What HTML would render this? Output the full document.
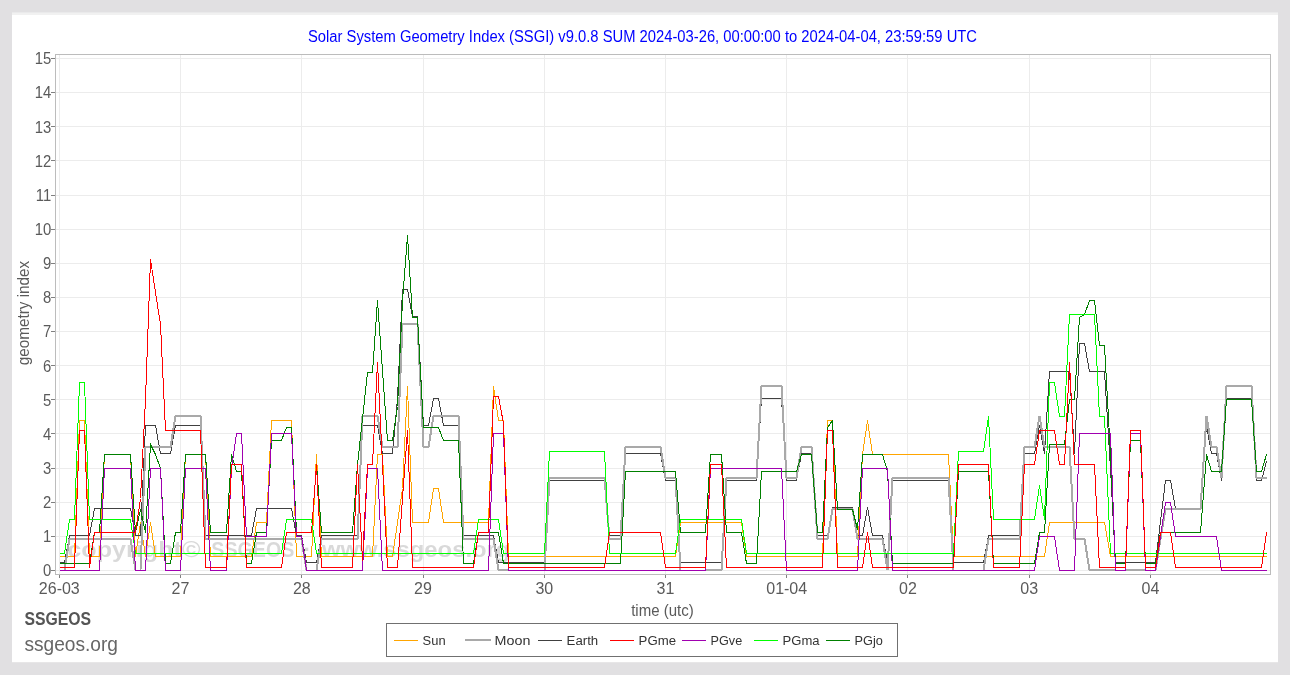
<!DOCTYPE html>
<html lang="en">
<head>
<meta charset="utf-8">
<title>Solar System Geometry Index (SSGI)</title>
<style>
html,body{margin:0;padding:0;background:#e1e0e2;}
body{width:1290px;height:675px;overflow:hidden;font-family:"Liberation Sans",sans-serif;}
svg{display:block;}
text{font-family:"Liberation Sans",sans-serif;}
.tick{font-size:16px;fill:#5a5a5a;}
.grid{stroke:#ececec;stroke-width:1;shape-rendering:crispEdges;}
.tk{stroke:#808080;stroke-width:1;shape-rendering:crispEdges;}
.ln{fill:none;stroke-linejoin:miter;stroke-linecap:butt;shape-rendering:crispEdges;}
</style>
</head>
<body>
<svg width="1290" height="675" viewBox="0 0 1290 675">
<rect x="0" y="0" width="1290" height="675" fill="#e1e0e2"/>
<rect x="12" y="12.4" width="1266" height="3" fill="#f1f1f1"/>
<rect x="12" y="15" width="1266" height="647.2" fill="#ffffff"/>
<text x="308" y="42" font-size="16" fill="#0000ff" textLength="669" lengthAdjust="spacingAndGlyphs">Solar System Geometry Index (SSGI) v9.0.8 SUM 2024-03-26, 00:00:00 to 2024-04-04, 23:59:59 UTC</text>
<g class="grid">
<line x1="56" x2="1270" y1="570.5" y2="570.5"/><line x1="56" x2="1270" y1="536.5" y2="536.5"/><line x1="56" x2="1270" y1="502.5" y2="502.5"/><line x1="56" x2="1270" y1="468.5" y2="468.5"/><line x1="56" x2="1270" y1="433.5" y2="433.5"/><line x1="56" x2="1270" y1="399.5" y2="399.5"/><line x1="56" x2="1270" y1="365.5" y2="365.5"/><line x1="56" x2="1270" y1="331.5" y2="331.5"/><line x1="56" x2="1270" y1="297.5" y2="297.5"/><line x1="56" x2="1270" y1="263.5" y2="263.5"/><line x1="56" x2="1270" y1="229.5" y2="229.5"/><line x1="56" x2="1270" y1="195.5" y2="195.5"/><line x1="56" x2="1270" y1="160.5" y2="160.5"/><line x1="56" x2="1270" y1="126.5" y2="126.5"/><line x1="56" x2="1270" y1="92.5" y2="92.5"/><line x1="56" x2="1270" y1="58.5" y2="58.5"/><line x1="59.5" x2="59.5" y1="55" y2="574"/><line x1="180.5" x2="180.5" y1="55" y2="574"/><line x1="301.5" x2="301.5" y1="55" y2="574"/><line x1="423.5" x2="423.5" y1="55" y2="574"/><line x1="544.5" x2="544.5" y1="55" y2="574"/><line x1="665.5" x2="665.5" y1="55" y2="574"/><line x1="786.5" x2="786.5" y1="55" y2="574"/><line x1="907.5" x2="907.5" y1="55" y2="574"/><line x1="1029.5" x2="1029.5" y1="55" y2="574"/><line x1="1150.5" x2="1150.5" y1="55" y2="574"/>
</g>
<g font-size="22.5" font-weight="bold" fill="#808080" fill-opacity="0.3"><text x="67.3" y="557.3" textLength="133.2" lengthAdjust="spacingAndGlyphs">copyright©</text><text x="211.3" y="557.3" textLength="83" lengthAdjust="spacingAndGlyphs">SSGEOS</text><text x="303.6" y="557.3">·</text><text x="322" y="557.3" textLength="188.4" lengthAdjust="spacingAndGlyphs">www.ssgeos.org</text></g>
<g class="ln">
<polyline stroke="#ffa500" stroke-width="1" points="59.5,556.5 74.5,556.5 79.5,420.5 84.5,420.5 89.5,556.5 99.5,556.5 104.5,454.5 130.5,454.5 135.5,556.5 140.5,522.5 145.5,556.5 150.5,522.5 155.5,556.5 180.5,556.5 185.5,454.5 205.5,454.5 210.5,556.5 251.5,556.5 256.5,522.5 266.5,522.5 271.5,420.5 291.5,420.5 296.5,556.5 311.5,556.5 316.5,454.5 321.5,556.5 372.5,556.5 377.5,454.5 382.5,454.5 387.5,556.5 392.5,556.5 397.5,522.5 402.5,488.5 407.5,386.5 412.5,522.5 428.5,522.5 433.5,488.5 438.5,488.5 443.5,522.5 488.5,522.5 493.5,386.5 498.5,420.5 503.5,420.5 508.5,556.5 675.5,556.5 680.5,522.5 741.5,522.5 746.5,556.5 822.5,556.5 827.5,420.5 832.5,420.5 837.5,556.5 857.5,556.5 862.5,454.5 867.5,420.5 872.5,454.5 948.5,454.5 953.5,556.5 1044.5,556.5 1049.5,522.5 1104.5,522.5 1110.5,556.5 1266.5,556.5"/>
<polyline stroke="#404040" stroke-width="1" points="59.5,562.5 64.5,562.5 69.5,535.5 89.5,535.5 94.5,508.5 130.5,508.5 135.5,535.5 140.5,535.5 145.5,425.5 155.5,425.5 160.5,453.5 170.5,453.5 175.5,425.5 200.5,425.5 205.5,535.5 251.5,535.5 256.5,508.5 291.5,508.5 296.5,535.5 301.5,535.5 306.5,562.5 316.5,562.5 321.5,535.5 357.5,535.5 362.5,425.5 377.5,425.5 382.5,453.5 392.5,453.5 397.5,398.5 402.5,289.5 407.5,289.5 412.5,316.5 417.5,316.5 423.5,425.5 428.5,425.5 433.5,398.5 438.5,398.5 443.5,425.5 458.5,425.5 463.5,535.5 493.5,535.5 498.5,562.5 544.5,562.5 549.5,480.5 604.5,480.5 609.5,535.5 620.5,535.5 625.5,453.5 660.5,453.5 665.5,480.5 675.5,480.5 680.5,562.5 721.5,562.5 726.5,480.5 756.5,480.5 761.5,398.5 781.5,398.5 786.5,480.5 796.5,480.5 801.5,453.5 811.5,453.5 817.5,535.5 827.5,535.5 832.5,507.5 852.5,507.5 857.5,535.5 862.5,535.5 867.5,507.5 872.5,535.5 882.5,535.5 887.5,562.5 892.5,480.5 948.5,480.5 953.5,562.5 983.5,562.5 988.5,535.5 1019.5,535.5 1024.5,453.5 1034.5,453.5 1039.5,425.5 1044.5,453.5 1049.5,371.5 1069.5,371.5 1074.5,453.5 1079.5,343.5 1084.5,343.5 1089.5,371.5 1104.5,371.5 1110.5,468.5 1115.5,562.5 1155.5,562.5 1160.5,521.5 1165.5,480.5 1170.5,480.5 1175.5,508.5 1200.5,508.5 1206.5,425.5 1211.5,453.5 1216.5,453.5 1221.5,480.5 1226.5,398.5 1251.5,398.5 1256.5,480.5 1261.5,480.5 1266.5,461.5"/>
<polyline stroke="#a9a9a9" stroke-width="2" points="64.5,570.0 69.5,539.0 130.5,539.0 135.5,570.0"/>
<polyline stroke="#a9a9a9" stroke-width="2" points="140.5,570.0 145.5,447.0 170.5,447.0 175.5,416.0 200.5,416.0 205.5,539.0 301.5,539.0 306.5,570.0"/>
<polyline stroke="#a9a9a9" stroke-width="2" points="316.5,570.0 321.5,539.0 357.5,539.0 362.5,416.0 377.5,416.0 382.5,447.0 397.5,447.0 402.5,324.0 417.5,324.0 423.5,447.0 428.5,447.0 433.5,416.0 458.5,416.0 463.5,539.0 493.5,539.0 498.5,570.0 508.5,570.0"/>
<polyline stroke="#a9a9a9" stroke-width="2" points="544.5,570.0 549.5,478.0 604.5,478.0 609.5,539.0 620.5,539.0 625.5,447.0 660.5,447.0 665.5,478.0 675.5,478.0 680.5,570.0"/>
<polyline stroke="#a9a9a9" stroke-width="2" points="705.5,570.0 721.5,570.0 726.5,478.0 756.5,478.0 761.5,386.0 781.5,386.0 786.5,478.0 796.5,478.0 801.5,447.0 811.5,447.0 817.5,539.0 827.5,539.0 832.5,509.0 852.5,509.0 857.5,539.0 882.5,539.0 887.5,570.0 892.5,478.0 948.5,478.0 953.5,570.0"/>
<polyline stroke="#a9a9a9" stroke-width="2" points="983.5,570.0 988.5,539.0 1019.5,539.0 1024.5,447.0 1034.5,447.0 1039.5,416.0 1044.5,447.0 1069.5,447.0 1074.5,539.0 1084.5,539.0 1089.5,570.0 1115.5,570.0"/>
<polyline stroke="#a9a9a9" stroke-width="2" points="1125.5,570.0 1145.5,570.0"/>
<polyline stroke="#a9a9a9" stroke-width="2" points="1155.5,570.0 1160.5,539.0 1165.5,509.0 1200.5,509.0 1206.5,416.0 1211.5,447.0 1216.5,447.0 1221.5,478.0 1226.5,386.0 1251.5,386.0 1256.5,478.0 1266.5,478.0"/>
<polyline stroke="#008000" stroke-width="1" points="59.5,563.5 89.5,563.5 94.5,532.5 99.5,532.5 104.5,454.5 130.5,454.5 135.5,532.5 140.5,509.5 145.5,532.5 150.5,444.5 155.5,454.5 160.5,468.5 165.5,563.5 170.5,563.5 175.5,532.5 180.5,532.5 185.5,454.5 205.5,454.5 210.5,532.5 226.5,532.5 231.5,454.5 236.5,471.5 241.5,471.5 246.5,563.5 251.5,563.5 256.5,532.5 266.5,532.5 271.5,440.5 281.5,440.5 286.5,427.5 291.5,427.5 296.5,532.5"/>
<polyline stroke="#008000" stroke-width="1" points="311.5,532.5 316.5,464.5 321.5,532.5 352.5,532.5 357.5,464.5 362.5,418.5 367.5,372.5 372.5,372.5 377.5,300.5 382.5,370.5 387.5,440.5 392.5,440.5 397.5,406.5 402.5,300.5 407.5,235.5 412.5,317.5 417.5,317.5 423.5,427.5 438.5,427.5 443.5,440.5 458.5,440.5 463.5,563.5 473.5,563.5 478.5,532.5 498.5,532.5 503.5,563.5 620.5,563.5 625.5,471.5 675.5,471.5 680.5,532.5 705.5,532.5 710.5,454.5 721.5,454.5 726.5,532.5 741.5,532.5 746.5,563.5 756.5,563.5 761.5,471.5 796.5,471.5 801.5,454.5 811.5,454.5 817.5,532.5 822.5,532.5 827.5,427.5 832.5,420.5 837.5,509.5 852.5,509.5 857.5,529.5 862.5,454.5 882.5,454.5 887.5,471.5 892.5,563.5 953.5,563.5 958.5,471.5 988.5,471.5 993.5,563.5 1034.5,563.5 1039.5,532.5 1044.5,532.5 1049.5,444.5 1064.5,444.5 1069.5,399.5 1074.5,399.5 1079.5,317.5 1084.5,314.5 1089.5,300.5 1094.5,300.5 1099.5,345.5 1104.5,345.5 1110.5,454.5 1115.5,563.5 1125.5,563.5 1130.5,440.5 1140.5,440.5 1145.5,563.5 1155.5,563.5 1160.5,532.5 1200.5,532.5 1206.5,454.5 1211.5,471.5 1221.5,471.5 1226.5,399.5 1251.5,399.5 1256.5,471.5 1261.5,471.5 1266.5,454.5"/>
<polyline stroke="#00ff00" stroke-width="1" points="59.5,553.5 64.5,553.5 69.5,519.5 74.5,519.5 79.5,382.5 84.5,382.5 89.5,519.5 130.5,519.5 135.5,553.5 281.5,553.5 286.5,519.5 311.5,519.5 316.5,553.5 473.5,553.5 478.5,519.5 498.5,519.5 503.5,553.5 544.5,553.5 549.5,451.5 604.5,451.5 609.5,553.5 675.5,553.5 680.5,519.5 741.5,519.5 746.5,553.5 953.5,553.5 958.5,451.5 983.5,451.5 988.5,416.5 993.5,519.5 1034.5,519.5 1039.5,485.5 1044.5,519.5 1049.5,382.5 1054.5,382.5 1059.5,416.5 1064.5,416.5 1069.5,314.5 1094.5,314.5 1099.5,416.5 1104.5,416.5 1110.5,553.5 1266.5,553.5"/>
<polyline stroke="#a000b0" stroke-width="1" points="59.5,570.5 99.5,570.5 104.5,468.5 130.5,468.5 135.5,570.5 145.5,570.5 150.5,468.5 160.5,468.5 165.5,570.5 180.5,570.5 185.5,468.5 205.5,468.5 210.5,570.5 226.5,570.5 231.5,468.5 236.5,433.5 241.5,433.5 246.5,536.5 266.5,536.5 271.5,433.5 291.5,433.5 296.5,536.5 301.5,536.5 306.5,570.5 362.5,570.5 367.5,468.5 377.5,468.5 382.5,570.5 488.5,570.5 493.5,433.5 503.5,433.5 508.5,570.5 705.5,570.5 710.5,468.5 781.5,468.5 786.5,570.5 857.5,570.5 862.5,468.5 887.5,468.5 892.5,570.5 1034.5,570.5 1039.5,536.5 1054.5,536.5 1059.5,570.5 1074.5,570.5 1079.5,433.5 1110.5,433.5 1115.5,570.5 1125.5,570.5 1130.5,433.5 1140.5,433.5 1145.5,570.5 1155.5,570.5 1160.5,536.5 1165.5,502.5 1170.5,502.5 1175.5,536.5 1216.5,536.5 1221.5,570.5 1266.5,570.5"/>
<polyline stroke="#ff0000" stroke-width="1" points="59.5,567.5 74.5,567.5 79.5,430.5 84.5,430.5 89.5,567.5 94.5,532.5 135.5,532.5 140.5,498.5 145.5,399.5 150.5,259.5 155.5,292.5 160.5,324.5 165.5,430.5 200.5,430.5 205.5,567.5 226.5,567.5 231.5,464.5 241.5,464.5 246.5,567.5 281.5,567.5 286.5,532.5 311.5,532.5 316.5,464.5 321.5,567.5 352.5,567.5 357.5,464.5 362.5,560.5 367.5,464.5 372.5,464.5 377.5,362.5 382.5,464.5 387.5,567.5 397.5,567.5 402.5,498.5 407.5,430.5 412.5,567.5 473.5,567.5 478.5,532.5 488.5,532.5 493.5,396.5 498.5,396.5 503.5,423.5 508.5,567.5 604.5,567.5 609.5,532.5 660.5,532.5 665.5,567.5 705.5,567.5 710.5,464.5 721.5,464.5 726.5,567.5 822.5,567.5 827.5,430.5 832.5,430.5 837.5,567.5 862.5,567.5 867.5,532.5 872.5,567.5 953.5,567.5 958.5,464.5 988.5,464.5 993.5,567.5 1019.5,567.5 1024.5,464.5 1034.5,464.5 1039.5,430.5 1054.5,430.5 1059.5,464.5 1064.5,464.5 1069.5,362.5 1074.5,464.5 1094.5,464.5 1099.5,567.5 1125.5,567.5 1130.5,430.5 1140.5,430.5 1145.5,567.5 1155.5,567.5 1160.5,532.5 1170.5,532.5 1175.5,567.5 1261.5,567.5 1266.5,532.5"/>
</g>
<rect x="55.5" y="54.5" width="1215" height="520" fill="none" stroke="#bcbcbc" stroke-width="1" shape-rendering="crispEdges"/>
<g class="tk">
<line x1="51" x2="55" y1="570.5" y2="570.5"/><line x1="51" x2="55" y1="536.5" y2="536.5"/><line x1="51" x2="55" y1="502.5" y2="502.5"/><line x1="51" x2="55" y1="468.5" y2="468.5"/><line x1="51" x2="55" y1="433.5" y2="433.5"/><line x1="51" x2="55" y1="399.5" y2="399.5"/><line x1="51" x2="55" y1="365.5" y2="365.5"/><line x1="51" x2="55" y1="331.5" y2="331.5"/><line x1="51" x2="55" y1="297.5" y2="297.5"/><line x1="51" x2="55" y1="263.5" y2="263.5"/><line x1="51" x2="55" y1="229.5" y2="229.5"/><line x1="51" x2="55" y1="195.5" y2="195.5"/><line x1="51" x2="55" y1="160.5" y2="160.5"/><line x1="51" x2="55" y1="126.5" y2="126.5"/><line x1="51" x2="55" y1="92.5" y2="92.5"/><line x1="51" x2="55" y1="58.5" y2="58.5"/><line x1="59.5" x2="59.5" y1="575" y2="578"/><line x1="180.5" x2="180.5" y1="575" y2="578"/><line x1="301.5" x2="301.5" y1="575" y2="578"/><line x1="423.5" x2="423.5" y1="575" y2="578"/><line x1="544.5" x2="544.5" y1="575" y2="578"/><line x1="665.5" x2="665.5" y1="575" y2="578"/><line x1="786.5" x2="786.5" y1="575" y2="578"/><line x1="907.5" x2="907.5" y1="575" y2="578"/><line x1="1029.5" x2="1029.5" y1="575" y2="578"/><line x1="1150.5" x2="1150.5" y1="575" y2="578"/>
</g>
<g class="tick">
<text transform="translate(51.2,576.3) scale(0.93,1)" text-anchor="end">0</text><text transform="translate(51.2,542.2) scale(0.93,1)" text-anchor="end">1</text><text transform="translate(51.2,508.0) scale(0.93,1)" text-anchor="end">2</text><text transform="translate(51.2,473.9) scale(0.93,1)" text-anchor="end">3</text><text transform="translate(51.2,439.8) scale(0.93,1)" text-anchor="end">4</text><text transform="translate(51.2,405.6) scale(0.93,1)" text-anchor="end">5</text><text transform="translate(51.2,371.5) scale(0.93,1)" text-anchor="end">6</text><text transform="translate(51.2,337.4) scale(0.93,1)" text-anchor="end">7</text><text transform="translate(51.2,303.2) scale(0.93,1)" text-anchor="end">8</text><text transform="translate(51.2,269.1) scale(0.93,1)" text-anchor="end">9</text><text transform="translate(51.2,235.0) scale(0.93,1)" text-anchor="end">10</text><text transform="translate(51.2,200.8) scale(0.93,1)" text-anchor="end">11</text><text transform="translate(51.2,166.7) scale(0.93,1)" text-anchor="end">12</text><text transform="translate(51.2,132.6) scale(0.93,1)" text-anchor="end">13</text><text transform="translate(51.2,98.4) scale(0.93,1)" text-anchor="end">14</text><text transform="translate(51.2,64.3) scale(0.93,1)" text-anchor="end">15</text>
<text transform="translate(59.3,594.4) scale(1.0,1)" text-anchor="middle">26-03</text><text transform="translate(180.5,594.4) scale(1.0,1)" text-anchor="middle">27</text><text transform="translate(301.8,594.4) scale(1.0,1)" text-anchor="middle">28</text><text transform="translate(423.0,594.4) scale(1.0,1)" text-anchor="middle">29</text><text transform="translate(544.3,594.4) scale(1.0,1)" text-anchor="middle">30</text><text transform="translate(665.5,594.4) scale(1.0,1)" text-anchor="middle">31</text><text transform="translate(786.7,594.4) scale(1.0,1)" text-anchor="middle">01-04</text><text transform="translate(908.0,594.4) scale(1.0,1)" text-anchor="middle">02</text><text transform="translate(1029.2,594.4) scale(1.0,1)" text-anchor="middle">03</text><text transform="translate(1150.5,594.4) scale(1.0,1)" text-anchor="middle">04</text>
</g>
<text x="631.2" y="615.8" font-size="16.5" fill="#5a5a5a" textLength="62.6" lengthAdjust="spacingAndGlyphs">time (utc)</text>
<text transform="translate(29.1,365.2) rotate(-90)" font-size="16" fill="#5a5a5a" textLength="104.4" lengthAdjust="spacingAndGlyphs">geometry index</text>
<text x="24.4" y="625.3" font-size="18" font-weight="bold" fill="#555555" textLength="66.6" lengthAdjust="spacingAndGlyphs">SSGEOS</text>
<text x="24.4" y="651.3" font-size="19.5" fill="#666666" textLength="93.6" lengthAdjust="spacingAndGlyphs">ssgeos.org</text>
<rect x="386.5" y="623.5" width="511" height="33" fill="#ffffff" stroke="#707070" stroke-width="1" shape-rendering="crispEdges"/>
<line x1="394" x2="418" y1="640.5" y2="640.5" stroke="#ffa500" stroke-width="1" shape-rendering="crispEdges"/><text x="422.6" y="644.7" font-size="12.3" fill="#333333" textLength="23.0" lengthAdjust="spacingAndGlyphs">Sun</text>
<line x1="465" x2="491" y1="640" y2="640" stroke="#a9a9a9" stroke-width="2" shape-rendering="crispEdges"/><text x="494.6" y="644.7" font-size="12.3" fill="#333333" textLength="35.8" lengthAdjust="spacingAndGlyphs">Moon</text>
<line x1="538" x2="562" y1="640.5" y2="640.5" stroke="#404040" stroke-width="1" shape-rendering="crispEdges"/><text x="566.6" y="644.7" font-size="12.3" fill="#333333" textLength="31.6" lengthAdjust="spacingAndGlyphs">Earth</text>
<line x1="610" x2="634" y1="640.5" y2="640.5" stroke="#ff0000" stroke-width="1" shape-rendering="crispEdges"/><text x="638.6" y="644.7" font-size="12.3" fill="#333333" textLength="37.4" lengthAdjust="spacingAndGlyphs">PGme</text>
<line x1="682" x2="706" y1="640.5" y2="640.5" stroke="#a000b0" stroke-width="1" shape-rendering="crispEdges"/><text x="710.6" y="644.7" font-size="12.3" fill="#333333" textLength="31.6" lengthAdjust="spacingAndGlyphs">PGve</text>
<line x1="754" x2="778" y1="640.5" y2="640.5" stroke="#00ff00" stroke-width="1" shape-rendering="crispEdges"/><text x="782.6" y="644.7" font-size="12.3" fill="#333333" textLength="37.0" lengthAdjust="spacingAndGlyphs">PGma</text>
<line x1="826" x2="850" y1="640.5" y2="640.5" stroke="#008000" stroke-width="1" shape-rendering="crispEdges"/><text x="854.6" y="644.7" font-size="12.3" fill="#333333" textLength="28.3" lengthAdjust="spacingAndGlyphs">PGjo</text>
</svg>
</body>
</html>
